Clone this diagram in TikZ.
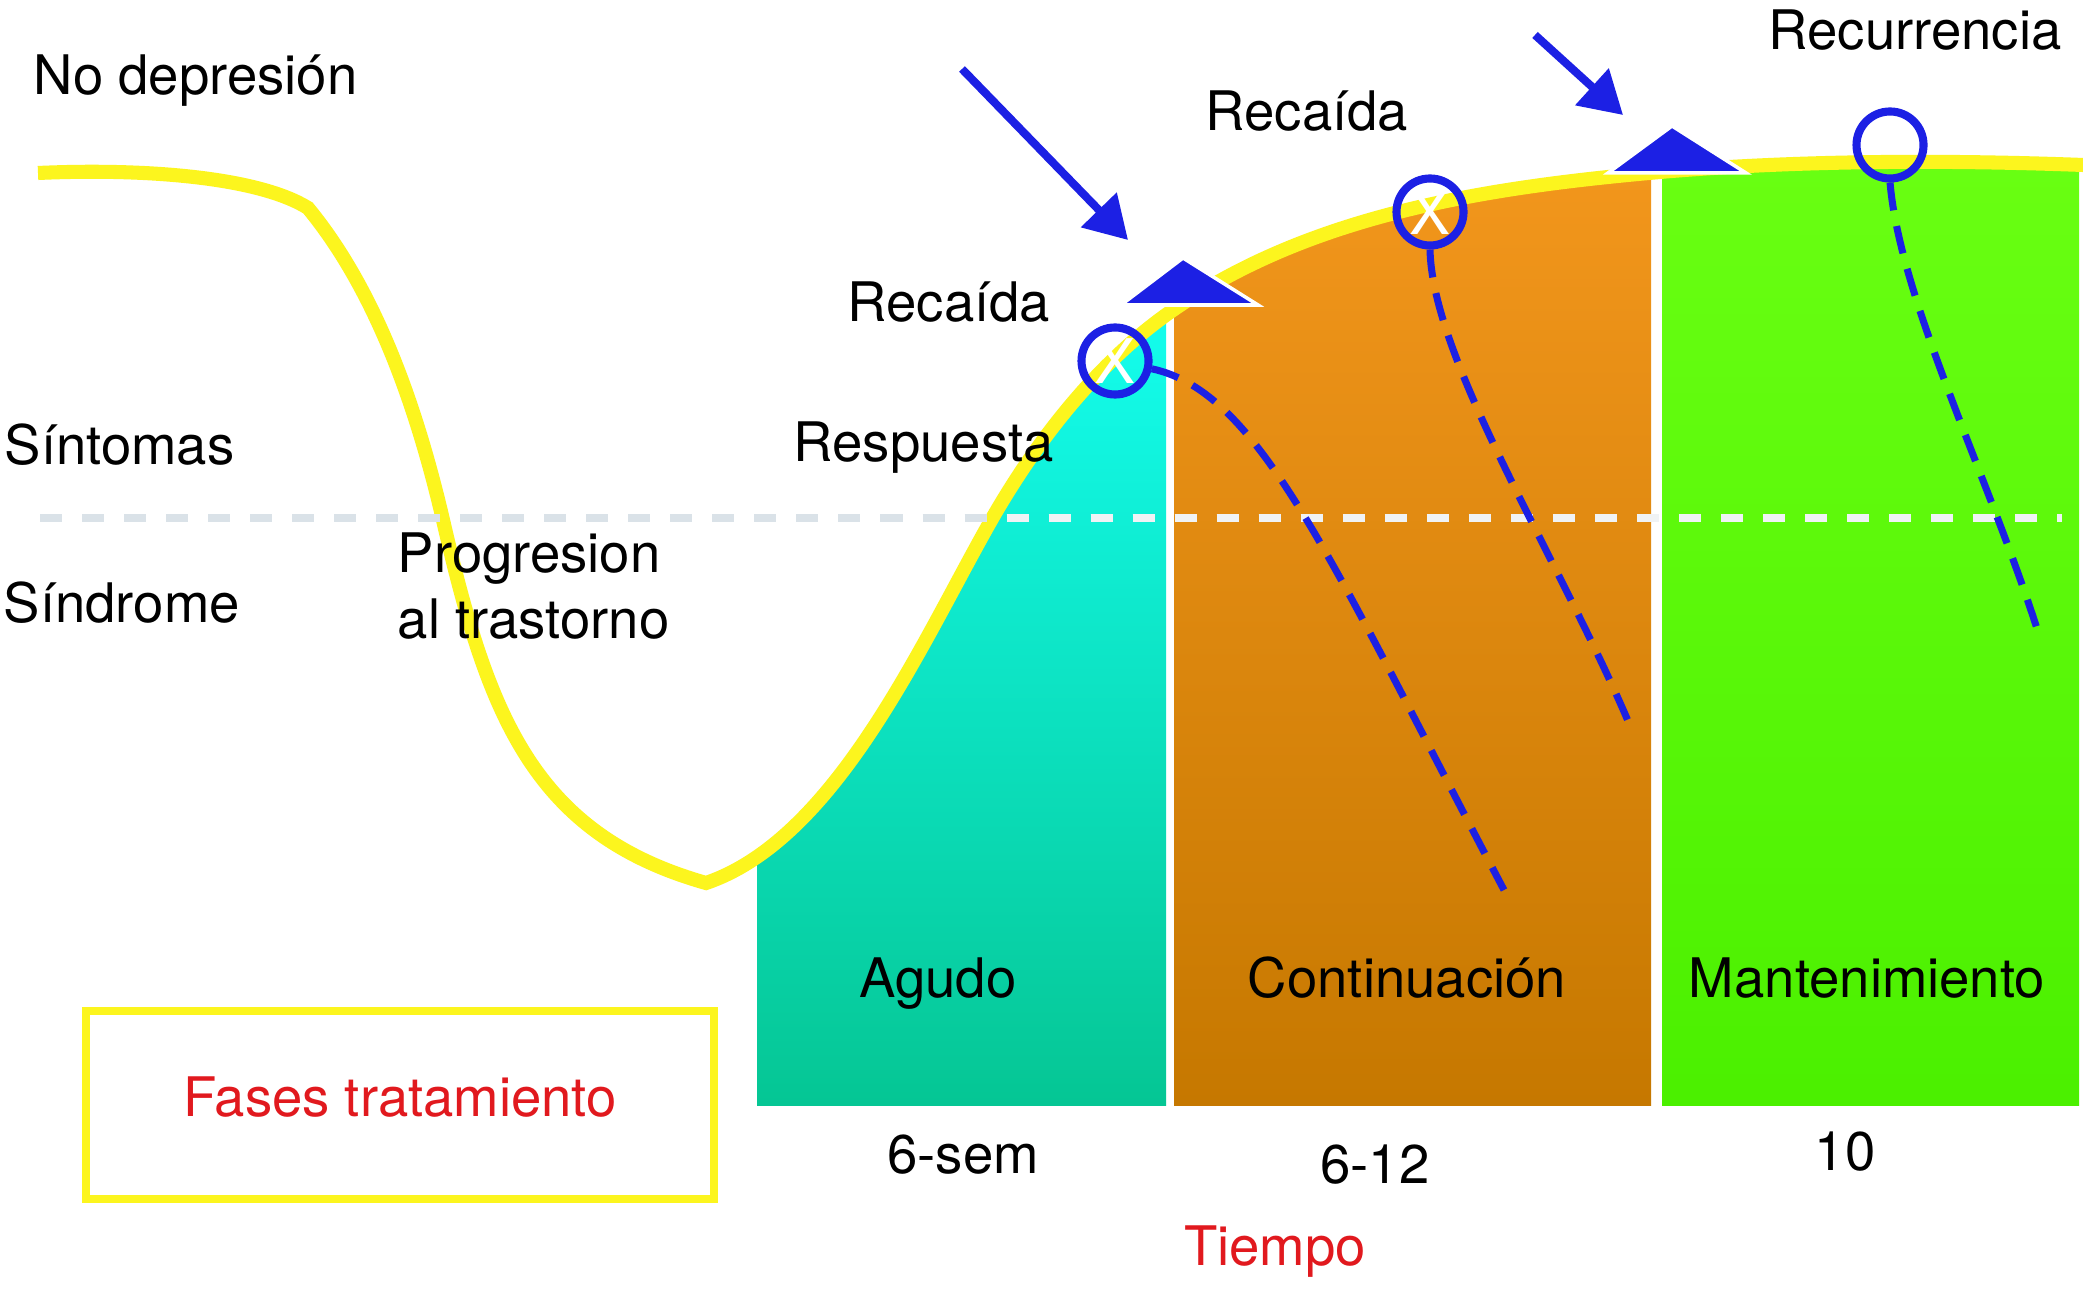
\documentclass[tikz,border=0pt]{standalone}
\usepackage{fontspec}
\setmainfont{TeX Gyre Heros}
\usetikzlibrary{arrows.meta}
\definecolor{bl}{RGB}{28,32,228}
\definecolor{yl}{RGB}{252,245,30}
\definecolor{rd}{RGB}{225,25,30}
\definecolor{gr}{RGB}{218,226,232}
\definecolor{wh}{RGB}{240,243,245}
\definecolor{cyT}{RGB}{20,255,240}
\definecolor{cyB}{RGB}{5,198,148}
\definecolor{orT}{RGB}{242,150,28}
\definecolor{orB}{RGB}{198,120,0}
\definecolor{gnT}{RGB}{105,255,18}
\definecolor{gnB}{RGB}{75,240,0}
\begin{document}
\begin{tikzpicture}[x=0.01cm,y=-0.01cm,
  lbl/.style={font=\fontsize{15.5}{18}\selectfont, inner sep=0pt},
  circ/.style={circle, draw=bl, line width=2.3pt, minimum size=0.67cm, inner sep=0pt, font=\fontsize{17.5}{20}\selectfont, text=white},
  bdash/.style={draw=bl, line width=2pt, dash pattern=on 0.28cm off 0.16cm},
  barrow/.style={draw=bl, line width=2.3pt, -{Triangle[length=0.42cm,width=0.48cm]}},
  tri/.style={fill=bl, draw=white, line width=1pt, line join=miter},
  gdash/.style={line width=2pt, dash pattern=on 0.22cm off 0.2cm}
]
\useasboundingbox (0,0) rectangle (2083,1292);
\fill[white] (0,0) rectangle (2083,1292);

% coloured phases, clipped by the curve
\begin{scope}
\clip (38,173) .. controls (150,168) and (260,178) .. (308,208)
  .. controls (378,293) and (418,413) .. (443,520)
  .. controls (488,715) and (533,834) .. (706,883)
  .. controls (838,838) and (923,639) .. (993,517)
  .. controls (1038,439) and (1099,361) .. (1173,310)
  .. controls (1313,213) and (1491,187) .. (1660,172)
  .. controls (1799,160) and (1950,160) .. (2083,165)
  -- (2083,1292) -- (0,1292) -- cycle;
\shade[top color=cyT,bottom color=cyB] (757,290) rectangle (1166,1105);
\shade[top color=orT,bottom color=orB] (1174,170) rectangle (1651,1105);
\shade[top color=gnT,bottom color=gnB] (1662,155) rectangle (2079,1105);
\end{scope}

% yellow curve
\draw[yl, line width=4pt] (38,173) .. controls (150,168) and (260,178) .. (308,208)
  .. controls (378,293) and (418,413) .. (443,520)
  .. controls (488,715) and (533,834) .. (706,883)
  .. controls (838,838) and (923,639) .. (993,517)
  .. controls (1038,439) and (1099,361) .. (1173,310)
  .. controls (1313,213) and (1491,187) .. (1660,172)
  .. controls (1799,160) and (1950,160) .. (2083,165);

% threshold line
\coordinate (g1) at (40,518);
\coordinate (g2) at (2062,518);
\draw[gdash, gr] (g1) -- (g2);
\begin{scope}
\clip (38,173) .. controls (150,168) and (260,178) .. (308,208)
  .. controls (378,293) and (418,413) .. (443,520)
  .. controls (488,715) and (533,834) .. (706,883)
  .. controls (838,838) and (923,639) .. (993,517)
  .. controls (1038,439) and (1099,361) .. (1173,310)
  .. controls (1313,213) and (1491,187) .. (1660,172)
  .. controls (1799,160) and (1950,160) .. (2083,165)
  -- (2083,1292) -- (0,1292) -- cycle;
\clip (757,300) rectangle (2083,1105);
\draw[gdash, wh] (g1) -- (g2);
\end{scope}

% triangles
\fill[tri] (1121,305) -- (1258,305) -- (1183,258) -- cycle;
\fill[tri] (1608,173) -- (1746,173) -- (1672,126) -- cycle;

% circles
\node[circ] (c1) at (1115,361) {X};
\node[circ] (c2) at (1430,212) {X};
\node[circ] (c3) at (1890,145) {};

% dashed trajectories
\coordinate (e1) at (1504,890);
\coordinate (e2) at (1631,728);
\coordinate (e3) at (2039,635);
\draw[bdash] (c1.-12) .. controls (1260,392) and (1330,560) .. (e1);
\draw[bdash] (c2.south) .. controls (1432,360) and (1560,560) .. (e2);
\draw[bdash] (c3.south) .. controls (1900,300) and (1990,480) .. (e3);

% arrows
\coordinate (a1s) at (962,69);
\coordinate (a1e) at (1128,240);
\coordinate (a2s) at (1535,35);
\coordinate (a2e) at (1623,115);
\draw[barrow] (a1s) -- (a1e);
\draw[barrow] (a2s) -- (a2e);

% box
\draw[yl, line width=2.3pt] (86,1011) rectangle (714,1199);
\node[lbl, text=rd, anchor=base] (fases) at (400,1116) {Fases tratamiento};

% labels
\node[lbl, anchor=base west] (nodep) at (33,95) {No depresión};
\node[lbl, anchor=base west] (sint) at (4,465) {Síntomas};
\node[lbl, anchor=base west] (sind) at (3,623) {Síndrome};
\node[lbl, anchor=base west] (prog1) at (397,573) {Progresion};
\node[lbl, anchor=base west] (prog2) at (397,639) {al trastorno};
\node[lbl, anchor=base west] (resp) at (793,462) {Respuesta};
\node[lbl, anchor=base west] (rec1) at (847,322) {Recaída};
\node[lbl, anchor=base west] (rec2) at (1205,131) {Recaída};
\node[lbl, anchor=base west] (recu) at (1768,50) {Recurrencia};
\node[lbl, anchor=base] (agudo) at (938,997) {Agudo};
\node[lbl, anchor=base] (cont) at (1407,997) {Continuación};
\node[lbl, anchor=base] (mant) at (1867,997) {Mantenimiento};
\node[lbl, anchor=base] (t1) at (963,1173) {6-sem};
\node[lbl, anchor=base] (t2) at (1375,1183) {6-12};
\node[lbl, anchor=base] (t3) at (1845,1170) {10};
\node[lbl, text=rd, anchor=base] (tiempo) at (1275,1265) {Tiempo};
\end{tikzpicture}
\end{document}
